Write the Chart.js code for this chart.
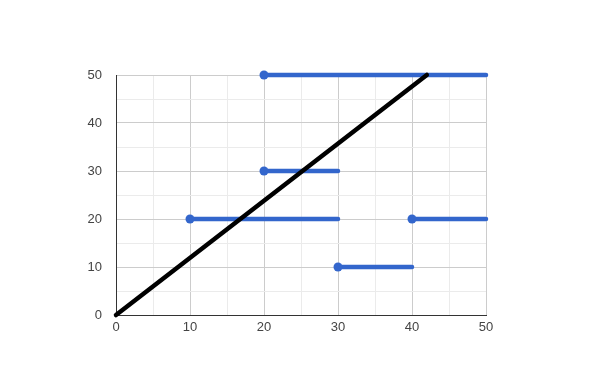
<!doctype html>
<html>
  <head>
    <meta charset="UTF-8">
    <title>Segments</title>
    <script src="https://cdn.jsdelivr.net/npm/chart.js@4/dist/chart.umd.min.js"></script>
    <style>
      body { margin: 0; background: #fff; }
      #wrap { width: 600px; height: 390px; }
    </style>
  </head>
  <body>
    <div id="wrap"><canvas id="chart"></canvas></div>
    <script>
      // blue segments: start x, end x, y value
      var segStart = [20, 20, 10, 40, 30]
      var segEnd   = [50, 30, 30, 50, 40]
      var segY     = [50, 30, 20, 20, 10]
      // black diagonal line
      var lineX = [0, 42]
      var lineY = [0, 50]

      var blue = '#3366cc'
      var datasets = []

      datasets.push({
        data: [{x: lineX[0], y: lineY[0]}, {x: lineX[1], y: lineY[1]}],
        showLine: true,
        borderColor: '#000',
        backgroundColor: '#000',
        borderWidth: 4.5,
        borderCapStyle: 'round',
        pointRadius: 0,
        clip: 10
      })

      for (var i = 0; i < segY.length; i++) {
        datasets.push({
          data: [{x: segStart[i], y: segY[i]}, {x: segEnd[i], y: segY[i]}],
          showLine: true,
          borderColor: blue,
          backgroundColor: blue,
          borderWidth: 4.5,
          borderCapStyle: 'round',
          pointRadius: [4.5, 0],
          pointBorderWidth: 0,
          pointHoverRadius: 0,
          clip: 10
        })
      }

      var gridColor = function(ctx) {
        return ctx.tick && ctx.tick.value % 10 === 0 ? '#cccccc' : '#ebebeb'
      }
      var tickFont = {family: "'Liberation Sans', Arial, sans-serif", size: 13}

      new Chart(document.getElementById('chart'), {
        type: 'scatter',
        data: {datasets: datasets},
        options: {
          responsive: true,
          maintainAspectRatio: false,
          animation: false,
          layout: {padding: {top: 75, right: 114, left: 0, bottom: 0}},
          plugins: {legend: {display: false}, tooltip: {enabled: false}},
          scales: {
            x: {
              type: 'linear', min: 0, max: 50,
              ticks: {
                stepSize: 5, color: '#444', font: tickFont, padding: 5,
                callback: function(v) { return v % 10 === 0 ? v : '' }
              },
              grid: {color: gridColor, drawTicks: false},
              border: {color: '#333', width: 1},
              afterFit: function(s) { s.height = 75 }
            },
            y: {
              type: 'linear', min: 0, max: 50,
              ticks: {
                stepSize: 5, color: '#444', font: tickFont, padding: 14,
                callback: function(v) { return v % 10 === 0 ? v : '' }
              },
              grid: {color: gridColor, drawTicks: false},
              border: {color: '#333', width: 1},
              afterFit: function(s) { s.width = 116 }
            }
          }
        }
      })
    </script>
  </body>
</html>
